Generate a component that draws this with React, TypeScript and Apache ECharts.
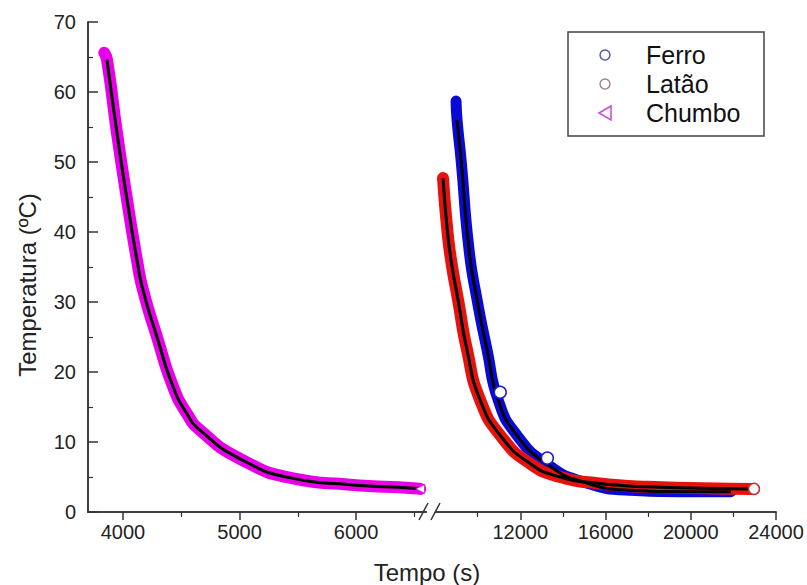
import React, { useEffect, useRef } from "react";
import * as echarts from "echarts";

// Temperatura (ºC) vs Tempo (s)
const chumbo: [number, number][] = [
  [3840, 65.6], [3863, 64.6], [3949, 54.1], [4035, 44.6], [4120, 36.0], [4172, 31.7],
  [4292, 25.0], [4430, 17.9], [4550, 14.0], [4661, 11.7], [5005, 7.6], [5460, 4.8],
  [5949, 3.9], [6490, 3.4], [6550, 3.3],
];
const latao: [number, number][] = [
  [8376, 47.7], [8565, 40.7], [8753, 36.0], [9082, 30.3], [9506, 23.1], [10118, 16.0],
  [11100, 10.8], [12471, 6.9], [13882, 5.0], [15624, 4.1], [17976, 3.6], [22965, 3.3],
];
const ferro: [number, number][] = [
  [8988, 58.7], [9035, 56.0], [9224, 50.3], [9600, 37.4], [9976, 30.3], [10447, 23.1],
  [10965, 16.0], [11812, 11.1], [13271, 6.8], [14965, 4.3], [17176, 3.1], [19529, 2.9],
  [21882, 2.9],
];
const ferroMarks: [number, number][] = [[11059, 17.1], [13271, 7.7]];
const lataoEnd: [number, number][] = [[22965, 3.3]];
const chumboEnd: [number, number][] = [[6550, 3.3]];

const leftXTicks = [4000, 5000, 6000];
const leftXMinor = [4500, 5500, 6500];
const rightXTicks = [12000, 16000, 20000, 24000];
const rightXMinor = [10000, 14000, 18000, 22000];
const legendNames = ["Ferro", "Latão", "Chumbo"];

const FONT = "'Liberation Sans', Arial, sans-serif";
const AX = "#333";

export default function App() {
  const ref = useRef<HTMLDivElement>(null);
  useEffect(() => {
    if (!ref.current) return;
    const chart = echarts.init(ref.current, undefined, { renderer: "svg" });
    const axisLine = { show: true, lineStyle: { color: AX, width: 1.5 } };
    const label = { fontSize: 20, color: "#222", fontFamily: FONT, margin: 10, formatter: (v: number) => String(v) };
    const majorX = (gi: number, min: number, max: number, ticks: number[]) => ({
      type: "value", gridIndex: gi, min, max, position: "bottom",
      axisLine, splitLine: { show: false },
      axisTick: { show: true, inside: false, length: 8, customValues: ticks, lineStyle: { color: AX, width: 1.5 } },
      axisLabel: { ...label, customValues: ticks },
    });
    const minorX = (gi: number, min: number, max: number, ticks: number[]) => ({
      type: "value", gridIndex: gi, min, max, position: "bottom", offset: 0,
      axisLine: { show: false }, splitLine: { show: false },
      axisTick: { show: true, inside: false, length: 5, customValues: ticks, lineStyle: { color: AX, width: 1.2 } },
      axisLabel: { show: false, customValues: ticks },
    });
    const band = (name: string, data: [number, number][], xi: number, yi: number, color: string, width: number) => ({
      type: "line", name, data, xAxisIndex: xi, yAxisIndex: yi,
      smooth: 0.55, showSymbol: false, silent: true,
      lineStyle: { color, width, cap: "round", join: "round" },
    });
    const fit = (data: [number, number][], xi: number, yi: number) => ({
      type: "line", data, xAxisIndex: xi, yAxisIndex: yi, z: 5,
      smooth: 0.55, showSymbol: false, silent: true,
      lineStyle: { color: "#000", width: 3 },
    });
    const legendX = 605;
    const legendY = [55, 84, 113];
    chart.setOption({
      animation: false,
      backgroundColor: "#fff",
      grid: [
        { left: 88, right: 381, top: 22, bottom: 73 },
        { left: 435, right: 31, top: 22, bottom: 73 },
        { left: 88, right: 31, top: 22, bottom: 73 },
      ],
      xAxis: [
        majorX(0, 3700, 6600, leftXTicks),
        minorX(0, 3700, 6600, leftXMinor),
        majorX(1, 8000, 24000, rightXTicks),
        minorX(1, 8000, 24000, rightXMinor),
        {
          type: "value", gridIndex: 2, position: "top", min: 0, max: 1,
          axisLine, axisTick: { show: false }, axisLabel: { show: false }, splitLine: { show: false },
        },
      ],
      yAxis: [
        {
          type: "value", gridIndex: 0, min: 0, max: 70, interval: 10,
          axisLine, splitLine: { show: false },
          axisTick: { show: true, inside: true, length: 10, lineStyle: { color: AX, width: 1.5 } },
          minorTick: { show: true, splitNumber: 2, length: 5, lineStyle: { color: AX, width: 1.2 } },
          axisLabel: { ...label, margin: 12 },
        },
        { type: "value", gridIndex: 1, min: 0, max: 70, interval: 10, show: false },
        {
          type: "value", gridIndex: 2, position: "right", min: 0, max: 1,
          axisLine, axisTick: { show: false }, axisLabel: { show: false }, splitLine: { show: false },
        },
      ],
      series: [
        band("Chumbo", chumbo, 0, 0, "#e800e8", 12),
        fit(chumbo.slice(1), 0, 0),
        {
          type: "scatter", data: chumboEnd, xAxisIndex: 0, yAxisIndex: 0, z: 6, silent: true,
          symbol: "triangle", symbolRotate: 90, symbolSize: 9,
          itemStyle: { color: "#fff", opacity: 1, borderColor: "#e800e8", borderWidth: 1 },
        },
        band("Ferro", ferro, 2, 1, "#0a0ad8", 11),
        band("Latão", latao, 2, 1, "#e8120c", 12),
        fit(ferro.slice(1), 2, 1),
        fit(latao, 2, 1),
        {
          type: "scatter", data: ferroMarks, xAxisIndex: 2, yAxisIndex: 1, z: 6, silent: true,
          symbol: "circle", symbolSize: 12,
          itemStyle: { color: "#fff", opacity: 1, borderColor: "#1a1ad0", borderWidth: 1.5 },
        },
        {
          type: "scatter", data: lataoEnd, xAxisIndex: 2, yAxisIndex: 1, z: 6, silent: true,
          symbol: "circle", symbolSize: 11,
          itemStyle: { color: "#fff", opacity: 1, borderColor: "#c83030", borderWidth: 1.5 },
        },
      ],
      graphic: [
        // axis break marks
        { type: "rect", shape: { x: 427, y: 508, width: 8, height: 8 }, style: { fill: "#fff" }, z: 100 },
        { type: "line", shape: { x1: 419, y1: 520, x2: 428, y2: 503 }, style: { stroke: AX, lineWidth: 1.5 }, z: 101 },
        { type: "line", shape: { x1: 431, y1: 520, x2: 440, y2: 503 }, style: { stroke: AX, lineWidth: 1.5 }, z: 101 },
        // axis titles
        {
          type: "text", x: 27, y: 285, rotation: Math.PI / 2,
          style: { text: "Temperatura (ºC)", fontSize: 24, fontFamily: FONT, fill: "#222", align: "center", verticalAlign: "middle" },
        },
        {
          type: "text", x: 427, y: 572,
          style: { text: "Tempo (s)", fontSize: 24, fontFamily: FONT, fill: "#222", align: "center", verticalAlign: "middle" },
        },
        // legend
        {
          type: "rect", shape: { x: 568, y: 32, width: 196, height: 104 },
          style: { fill: "#fff", stroke: "#444", lineWidth: 1.5 }, z: 50,
        },
        { type: "circle", shape: { cx: legendX, cy: legendY[0], r: 5 }, style: { fill: "#fff", stroke: "#5c5c9c", lineWidth: 1.5 }, z: 51 },
        { type: "circle", shape: { cx: legendX, cy: legendY[1], r: 5 }, style: { fill: "#fff", stroke: "#a08888", lineWidth: 1.5 }, z: 51 },
        {
          type: "polygon",
          shape: { points: [[legendX + 6, legendY[2] - 7], [legendX - 6, legendY[2]], [legendX + 6, legendY[2] + 7]] },
          style: { fill: "#fff", stroke: "#d048d0", lineWidth: 1.5 }, z: 51,
        },
        ...legendNames.map((n, i) => ({
          type: "text", x: 646, y: legendY[i], z: 51,
          style: { text: n, fontSize: 25, fontFamily: FONT, fill: "#111", align: "left", verticalAlign: "middle" },
        })),
      ],
    });
    return () => chart.dispose();
  }, []);
  return <div ref={ref} style={{ width: 807, height: 585, position: "absolute", left: 0, top: 0 }} />;
}
